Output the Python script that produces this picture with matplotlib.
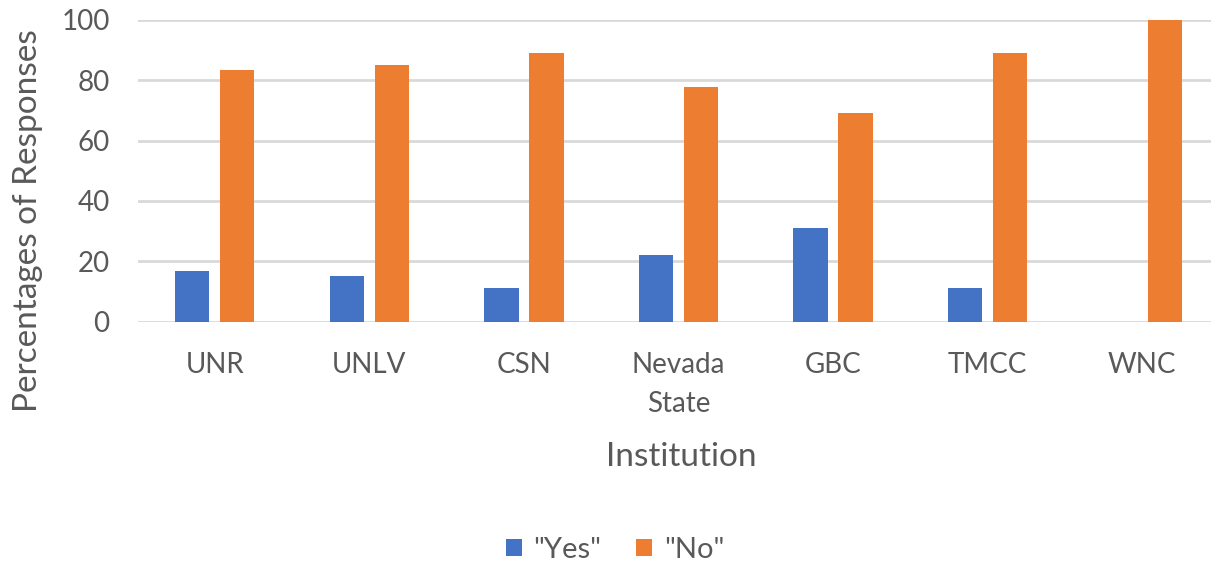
import numpy as np
import matplotlib.pyplot as plt

institutions = ["UNR", "UNLV", "CSN", "Nevada\nState", "GBC", "TMCC", "WNC"]
yes_pct = [16.7, 15.0, 11.1, 22.2, 31.0, 11.1, 0.0]
no_pct = [83.3, 85.0, 88.9, 77.8, 69.0, 88.9, 100.0]

blue = "#4472C4"
orange = "#ED7D31"
grey = "#595959"

plt.rcParams['font.family'] = ['Lato', 'DejaVu Sans']

fig = plt.figure(figsize=(12.11, 5.66), dpi=100)
# plot area runs a bit past the right edge, like the cropped original
ax = fig.add_axes([137.5 / 1211, 1 - 321.5 / 566, 1082 / 1211, 301.5 / 566])

x = np.arange(len(institutions))
w = 0.222
ax.bar(x - 0.1455, yes_pct, w, color=blue, label='"Yes"', zorder=3)
ax.bar(x + 0.1455, no_pct, w, color=orange, label='"No"', zorder=3)

ax.set_xlim(-0.5, len(institutions) - 0.5)
ax.set_ylim(0, 100)
ax.set_yticks(range(0, 101, 20))
ax.set_xticks(x)
ax.set_xticklabels(institutions, fontsize=20, color=grey, linespacing=1.6)
ax.tick_params(axis='y', labelsize=20, labelcolor=grey, length=0, pad=20)
ax.tick_params(axis='x', length=0, pad=22)
ax.yaxis.grid(True, color="#D9D9D9", linewidth=2, zorder=0)
for s in ax.spines.values():
    s.set_visible(False)

fig.text(28 / 1211, 1 - 221 / 566, "Percentages of Responses", rotation=90,
         ha="center", va="center", fontsize=24, color=grey)
fig.text(681 / 1211, 1 - 457 / 566, "Institution",
         ha="center", va="center", fontsize=24, color=grey)

fig.legend(loc="center", bbox_to_anchor=(615 / 1211, 1 - 550 / 566), ncol=2, frameon=False,
           fontsize=21, labelcolor=grey, handlelength=0.55, handleheight=0.55,
           handletextpad=0.4, columnspacing=1.2)

fig.savefig("out.png", dpi=100)
